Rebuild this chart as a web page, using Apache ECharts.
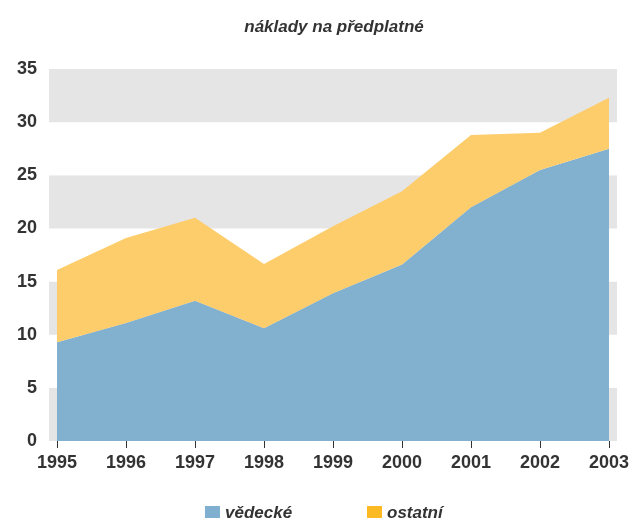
<!DOCTYPE html>
<html><head><meta charset="utf-8">
<script src="https://cdn.jsdelivr.net/npm/echarts@6/dist/echarts.min.js"></script>
<style>html,body{margin:0;padding:0;background:#fff}#c{width:632px;height:518px}</style>
</head><body><div id="c"></div>
<script>
const years = ['1995','1996','1997','1998','1999','2000','2001','2002','2003'];
const vedecke = [9.3, 11.1, 13.2, 10.6, 13.9, 16.6, 22.0, 25.5, 27.5];
const ostatni = [6.8, 8.0, 7.8, 6.05, 6.3, 6.9, 6.8, 3.5, 4.8];
const titleText = 'náklady na předplatné';
const seriesNames = ['vědecké', 'ostatní'];

const FONT = '"Liberation Sans Narrow", "Liberation Sans", Arial, sans-serif';
const chart = echarts.init(document.getElementById('c'));
chart.setOption({
  animation: false,
  title: {text: titleText, left: 329, top: 14, textAlign: 'center',
    textStyle: {fontFamily: FONT, fontStyle: 'italic', fontWeight: 'bold', fontSize: 17, color: '#333'}},
  legend: [
    {data: [seriesNames[0]], left: 200, top: 500, icon: 'rect', itemWidth: 15, itemHeight: 15, itemGap: 8,
      textStyle: {fontFamily: FONT, fontStyle: 'italic', fontWeight: 'bold', fontSize: 17, color: '#333'}},
    {data: [seriesNames[1]], left: 362, top: 500, icon: 'rect', itemWidth: 15, itemHeight: 15, itemGap: 8,
      textStyle: {fontFamily: FONT, fontStyle: 'italic', fontWeight: 'bold', fontSize: 17, color: '#333'}}
  ],
  grid: [
    {left: 49, right: 15, top: 69, bottom: 77},
    {left: 57, right: 16, top: 69, bottom: 77}
  ],
  xAxis: [
    {gridIndex: 0, type: 'value', min: 0, max: 1, show: false},
    {gridIndex: 1, type: 'category', data: years, boundaryGap: false,
      axisLine: {show: false},
      axisTick: {show: true, length: 7, lineStyle: {color: '#333', width: 1}},
      axisLabel: {fontFamily: FONT, fontWeight: 'bold', fontSize: 18, color: '#333', margin: 13}}
  ],
  yAxis: [
    {gridIndex: 0, type: 'value', min: 0, max: 35, interval: 5,
      axisLine: {show: false}, axisTick: {show: false},
      splitLine: {show: false},
      splitArea: {show: true, areaStyle: {color: ['#e5e5e5', '#ffffff']}},
      axisLabel: {fontFamily: FONT, fontWeight: 'bold', fontSize: 18, color: '#333', margin: 12}},
    {gridIndex: 1, type: 'value', min: 0, max: 35, interval: 5, show: false, splitLine: {show: false}}
  ],
  series: [
    {name: seriesNames[0], type: 'line', xAxisIndex: 1, yAxisIndex: 1, stack: 'a', data: vedecke,
      symbol: 'none', lineStyle: {width: 0}, itemStyle: {color: '#7fb0d0'},
      areaStyle: {color: '#82b0cf', opacity: 1}},
    {name: seriesNames[1], type: 'line', xAxisIndex: 1, yAxisIndex: 1, stack: 'a', data: ostatni,
      symbol: 'none', lineStyle: {width: 0}, itemStyle: {color: '#fbb924'},
      areaStyle: {color: '#fdcd6b', opacity: 1}}
  ]
});
</script></body></html>
